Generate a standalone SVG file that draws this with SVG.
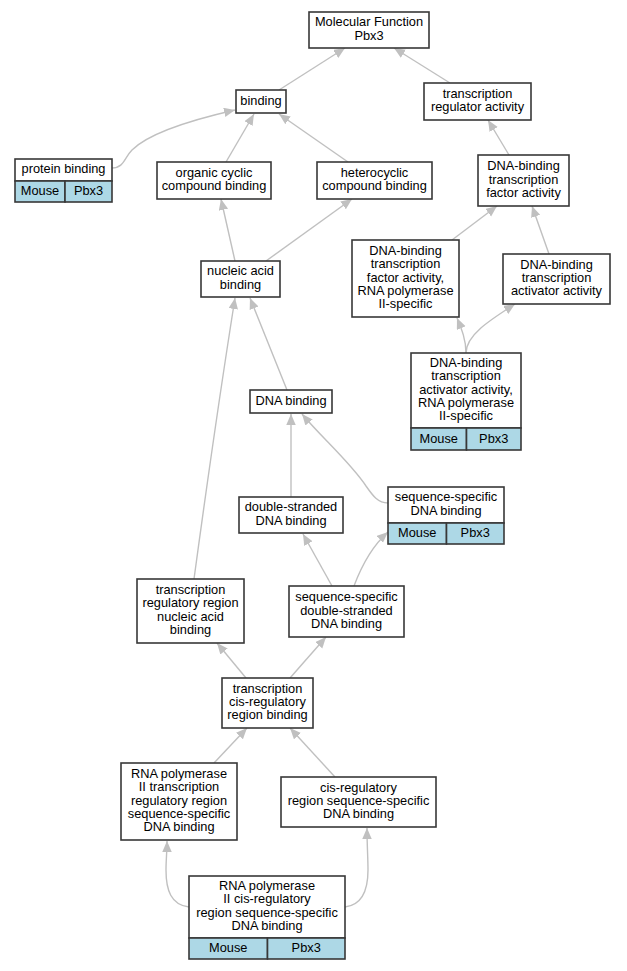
<svg xmlns="http://www.w3.org/2000/svg" width="627" height="971" viewBox="0 0 627 971">
<defs>
<style>
.box{fill:#ffffff;stroke:#383838;stroke-width:1.6}
.cell{fill:#add8e6;stroke:#383838;stroke-width:1.6}
.t{font-family:"Liberation Sans",Arial,sans-serif;font-size:12.8px;fill:#000;text-anchor:middle}
.e{fill:none;stroke:#c0c0c0;stroke-width:1.4;marker-end:url(#arr)}
</style>
<marker id="arr" markerUnits="userSpaceOnUse" markerWidth="12" markerHeight="10" refX="11" refY="4.75" orient="auto">
<path d="M0,0 L11,4.75 L0,9.5 z" fill="#c0c0c0"/>
</marker>
</defs>
<rect width="627" height="971" fill="#ffffff"/>
<g id="edges">
<path class="e" d="M279,90 L345,48"/>
<path class="e" d="M450,83 L394,48"/>
<path class="e" d="M112,168 C124,168 124,158 132,150 C150,132 200,118 235,110"/>
<path class="e" d="M226,162 L254,114"/>
<path class="e" d="M348,162 L279,114"/>
<path class="e" d="M509,155 L488,120"/>
<path class="e" d="M235,261 L221,199"/>
<path class="e" d="M266,261 L352,199"/>
<path class="e" d="M452,240 L497,206"/>
<path class="e" d="M549,254 L532,206"/>
<path class="e" d="M466,353 C466,340 462,330 457,318"/>
<path class="e" d="M466,353 C466,335 490,320 515,304"/>
<path class="e" d="M287,390 L250,298"/>
<path class="e" d="M194,579 C202,520 222,380 235,298"/>
<path class="e" d="M291,497 L291,414"/>
<path class="e" d="M388,503 C378,503 373,496 366,486 C350,462 322,438 302,414"/>
<path class="e" d="M332,586 L303,534"/>
<path class="e" d="M354,586 C360,570 370,548 388,532"/>
<path class="e" d="M246,678 L217,643"/>
<path class="e" d="M290,678 L326,637"/>
<path class="e" d="M214,763 L247,728"/>
<path class="e" d="M335,777 L290,728"/>
<path class="e" d="M189,907 C171,905 166,890 166,870 C166,860 167,852 167,841"/>
<path class="e" d="M345,907 C362,905 368,890 368,870 C368,858 367,845 367,828"/>
</g>
<g id="n1">
<rect class="box" x="309" y="12" width="120" height="36"/>
<text class="t" x="369" y="26.4">Molecular Function</text>
<text class="t" x="369" y="39.7">Pbx3</text>
</g>
<g id="n2">
<rect class="box" x="236" y="90" width="50" height="23"/>
<text class="t" x="261" y="104.5">binding</text>
</g>
<g id="n3">
<rect class="box" x="424" y="83" width="107" height="37"/>
<text class="t" x="477.5" y="97.9">transcription</text>
<text class="t" x="477.5" y="111.2">regulator activity</text>
</g>
<g id="n4">
<rect class="box" x="15" y="159" width="97" height="22"/>
<rect class="cell" x="15" y="181" width="50" height="21"/>
<rect class="cell" x="65" y="181" width="47" height="21"/>
<text class="t" x="63.5" y="173">protein binding</text>
<text class="t" x="40" y="195">Mouse</text>
<text class="t" x="88.5" y="195">Pbx3</text>
</g>
<g id="n5">
<rect class="box" x="157" y="162" width="114" height="37"/>
<text class="t" x="214" y="176.9">organic cyclic</text>
<text class="t" x="214" y="190.2">compound binding</text>
</g>
<g id="n6">
<rect class="box" x="317" y="162" width="115" height="37"/>
<text class="t" x="374.5" y="176.9">heterocyclic</text>
<text class="t" x="374.5" y="190.2">compound binding</text>
</g>
<g id="n7">
<rect class="box" x="478" y="155" width="91" height="51"/>
<text class="t" x="523.5" y="170.2">DNA-binding</text>
<text class="t" x="523.5" y="183.5">transcription</text>
<text class="t" x="523.5" y="196.8">factor activity</text>
</g>
<g id="n8">
<rect class="box" x="201" y="261" width="79" height="36"/>
<text class="t" x="240.5" y="275.4">nucleic acid</text>
<text class="t" x="240.5" y="288.7">binding</text>
</g>
<g id="n9">
<rect class="box" x="352" y="240" width="107" height="77"/>
<text class="t" x="405.5" y="254.9">DNA-binding</text>
<text class="t" x="405.5" y="268.2">transcription</text>
<text class="t" x="405.5" y="281.5">factor activity,</text>
<text class="t" x="405.5" y="294.8">RNA polymerase</text>
<text class="t" x="405.5" y="308.1">II-specific</text>
</g>
<g id="n10">
<rect class="box" x="503" y="254" width="107" height="50"/>
<text class="t" x="556.5" y="268.7">DNA-binding</text>
<text class="t" x="556.5" y="282">transcription</text>
<text class="t" x="556.5" y="295.3">activator activity</text>
</g>
<g id="n11">
<rect class="box" x="411" y="353" width="110" height="75"/>
<rect class="cell" x="411" y="428" width="55.5" height="22"/>
<rect class="cell" x="466.5" y="428" width="54.5" height="22"/>
<text class="t" x="466" y="366.9">DNA-binding</text>
<text class="t" x="466" y="380.2">transcription</text>
<text class="t" x="466" y="393.5">activator activity,</text>
<text class="t" x="466" y="406.8">RNA polymerase</text>
<text class="t" x="466" y="420.1">II-specific</text>
<text class="t" x="438.7" y="442.5">Mouse</text>
<text class="t" x="493.7" y="442.5">Pbx3</text>
</g>
<g id="n12">
<rect class="box" x="250" y="390" width="82" height="23"/>
<text class="t" x="291" y="404.7">DNA binding</text>
</g>
<g id="n13">
<rect class="box" x="239" y="497" width="104" height="36"/>
<text class="t" x="291" y="511.4">double-stranded</text>
<text class="t" x="291" y="524.7">DNA binding</text>
</g>
<g id="n14">
<rect class="box" x="388" y="487" width="116" height="36"/>
<rect class="cell" x="388" y="523" width="58.5" height="21"/>
<rect class="cell" x="446.5" y="523" width="57.5" height="21"/>
<text class="t" x="446" y="501.4">sequence-specific</text>
<text class="t" x="446" y="514.7">DNA binding</text>
<text class="t" x="417.2" y="536.8">Mouse</text>
<text class="t" x="475.2" y="536.8">Pbx3</text>
</g>
<g id="n15">
<rect class="box" x="137" y="579" width="107" height="64"/>
<text class="t" x="190.5" y="594.1">transcription</text>
<text class="t" x="190.5" y="607.4">regulatory region</text>
<text class="t" x="190.5" y="620.7">nucleic acid</text>
<text class="t" x="190.5" y="634">binding</text>
</g>
<g id="n16">
<rect class="box" x="289" y="586" width="115" height="51"/>
<text class="t" x="346.5" y="601.2">sequence-specific</text>
<text class="t" x="346.5" y="614.5">double-stranded</text>
<text class="t" x="346.5" y="627.8">DNA binding</text>
</g>
<g id="n17">
<rect class="box" x="222" y="678" width="91" height="50"/>
<text class="t" x="267.5" y="692.7">transcription</text>
<text class="t" x="267.5" y="706">cis-regulatory</text>
<text class="t" x="267.5" y="719.3">region binding</text>
</g>
<g id="n18">
<rect class="box" x="121" y="763" width="116" height="77"/>
<text class="t" x="179" y="777.9">RNA polymerase</text>
<text class="t" x="179" y="791.2">II transcription</text>
<text class="t" x="179" y="804.5">regulatory region</text>
<text class="t" x="179" y="817.8">sequence-specific</text>
<text class="t" x="179" y="831.1">DNA binding</text>
</g>
<g id="n19">
<rect class="box" x="281" y="777" width="155" height="50"/>
<text class="t" x="358.5" y="791.7">cis-regulatory</text>
<text class="t" x="358.5" y="805">region sequence-specific</text>
<text class="t" x="358.5" y="818.3">DNA binding</text>
</g>
<g id="n20">
<rect class="box" x="189" y="876" width="156" height="62"/>
<rect class="cell" x="189" y="938" width="78.5" height="21"/>
<rect class="cell" x="267.5" y="938" width="77.5" height="21"/>
<text class="t" x="267" y="890">RNA polymerase</text>
<text class="t" x="267" y="903.4">II cis-regulatory</text>
<text class="t" x="267" y="916.7">region sequence-specific</text>
<text class="t" x="267" y="930">DNA binding</text>
<text class="t" x="228.2" y="951.8">Mouse</text>
<text class="t" x="306.2" y="951.8">Pbx3</text>
</g>
</svg>
